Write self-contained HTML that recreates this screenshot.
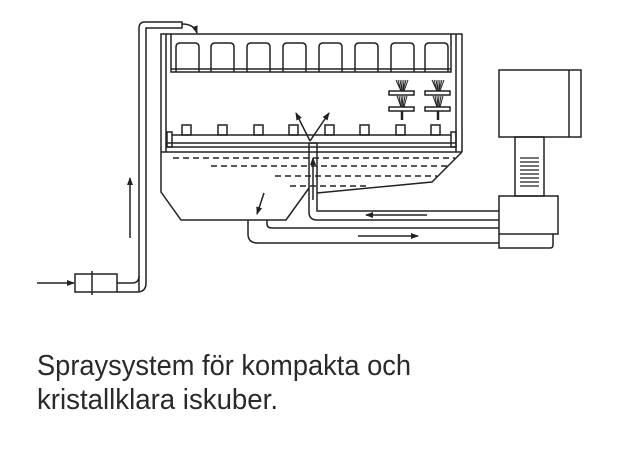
<!DOCTYPE html>
<html><head><meta charset="utf-8"><style>html,body{margin:0;padding:0;background:#fff}svg{display:block}</style></head><body>
<svg width="630" height="465" viewBox="0 0 630 465" xmlns="http://www.w3.org/2000/svg">
<defs><marker id="a" markerWidth="8" markerHeight="8" refX="7" refY="4" orient="auto" markerUnits="userSpaceOnUse"><path d="M0,1 L8,4 L0,7 Z" fill="#222"/></marker></defs>
<g fill="none" stroke="#222" stroke-width="1.5">
<path d="M139,292 L139,28 Q139,22 145,22 L182,22 L182,28 L146,28 L146,283 Q146,292 137,292 L117,292"/>
<path d="M117,283 L132,283 Q139,283 139,276"/>
<path d="M182,24 Q194,24 197,33" marker-end="url(#a)"/>
<rect x="75" y="274" width="42" height="18"/>
<line x1="92" y1="271" x2="92" y2="295"/>
<line x1="37" y1="283" x2="74" y2="283" marker-end="url(#a)"/>
<line x1="130" y1="238" x2="130" y2="178" marker-end="url(#a)"/>
<path d="M161,152 L161,34 L462,34 L462,152"/>
<path d="M166,152 L166,34 M456,152 L456,34"/>
<path d="M171,34 L171,72 L451,72 L451,34 M171,69 L451,69"/>
<g>
<path d="M176,72 L176,47 Q176,43 180,43 L195,43 Q199,43 199,47 L199,72"/>
<path d="M211,72 L211,47 Q211,43 215,43 L230,43 Q234,43 234,47 L234,72"/>
<path d="M247,72 L247,47 Q247,43 251,43 L266,43 Q270,43 270,47 L270,72"/>
<path d="M283,72 L283,47 Q283,43 287,43 L302,43 Q306,43 306,47 L306,72"/>
<path d="M319,72 L319,47 Q319,43 323,43 L338,43 Q342,43 342,47 L342,72"/>
<path d="M355,72 L355,47 Q355,43 359,43 L374,43 Q378,43 378,47 L378,72"/>
<path d="M391,72 L391,47 Q391,43 395,43 L410,43 Q414,43 414,47 L414,72"/>
<path d="M425,72 L425,47 Q425,43 429,43 L444,43 Q448,43 448,47 L448,72"/>
</g>
<line x1="172" y1="135" x2="451" y2="135"/>
<line x1="166" y1="143" x2="456" y2="143"/>
<line x1="166" y1="147" x2="456" y2="147"/>
<line x1="161" y1="152" x2="462" y2="152"/>
<rect x="167" y="132" width="5" height="15"/>
<rect x="451" y="132" width="5" height="15"/>
<rect x="182" y="125" width="9" height="10"/><rect x="218" y="125" width="9" height="10"/>
<rect x="254" y="125" width="9" height="10"/><rect x="289" y="125" width="9" height="10"/>
<rect x="325" y="125" width="9" height="10"/><rect x="360" y="125" width="9" height="10"/>
<rect x="396" y="125" width="9" height="10"/><rect x="431" y="125" width="9" height="10"/>
<rect x="389" y="91" width="25" height="4"/><rect x="389" y="107" width="25" height="4"/>
<rect x="425" y="91" width="25" height="4"/><rect x="425" y="107" width="25" height="4"/>
<path d="M396,80 L401,91 M398,80 L401,91 M400,80 L402,91 M402,80 L402,91 M404,80 L403,91 M406,80 L403,91 M408,80 L404,91 M397,96 L401,107 M399,96 L401,107 M401,96 L402,107 M403,96 L402,107 M405,96 L403,107 M407,96 L404,107" stroke-width="1"/>
<path d="M432,80 L437,91 M434,80 L437,91 M436,80 L438,91 M438,80 L438,91 M440,80 L439,91 M442,80 L439,91 M444,80 L440,91 M433,96 L437,107 M435,96 L437,107 M437,96 L438,107 M439,96 L438,107 M441,96 L439,107 M443,96 L440,107" stroke-width="1"/>
<path d="M402,111 L402,120 M438,111 L438,120" stroke-width="2.5"/>
<line x1="310" y1="141" x2="296" y2="113" marker-end="url(#a)"/>
<line x1="310" y1="141" x2="329" y2="113" marker-end="url(#a)"/>
<path d="M161,152 L161,192 L181,220 L286,220 L309,188"/>
<path d="M462,152 L432,182 L317,193"/>
<g stroke-dasharray="6,4">
<line x1="173" y1="158" x2="455" y2="158"/>
<line x1="211" y1="166" x2="447" y2="166"/>
<line x1="275" y1="176" x2="437" y2="176"/>
<line x1="290" y1="186" x2="370" y2="186"/>
</g>
<path d="M309,143 L317,143 M309,143 L309,212 Q309,220 317,220 L499,220"/>
<path d="M317,143 L317,211 L499,211"/>
<line x1="313" y1="200" x2="313" y2="158" marker-end="url(#a)"/>
<path d="M267,220 L267,224 Q267,228 272,228 L499,228"/>
<path d="M248,220 L248,234 Q248,243 258,243 L499,243"/>
<line x1="427" y1="215" x2="366" y2="215" marker-end="url(#a)"/>
<line x1="358" y1="236" x2="418" y2="236" marker-end="url(#a)"/>
<line x1="264" y1="193" x2="257" y2="214" marker-end="url(#a)"/>
<rect x="499" y="196" width="59" height="38"/>
<path d="M499,234 L499,248 L550,248 Q553,248 553,245 L553,234"/>
<rect x="515" y="137" width="29" height="59"/>
<path d="M520,158 H539 M520,162 H539 M520,166 H539 M520,170 H539 M520,174 H539 M520,178 H539 M520,182 H539 M520,186 H539" stroke-width="1.2"/>
<rect x="499" y="70" width="82" height="67"/>
<line x1="569" y1="70" x2="569" y2="137"/>
</g>
<g font-family="Liberation Sans, sans-serif" fill="#2a2a2a" font-size="29">
<text x="37" y="375" textLength="374" lengthAdjust="spacingAndGlyphs">Spraysystem för kompakta och</text>
<text x="37" y="409" textLength="241" lengthAdjust="spacingAndGlyphs">kristallklara iskuber.</text>
</g>
</svg>
</body></html>
